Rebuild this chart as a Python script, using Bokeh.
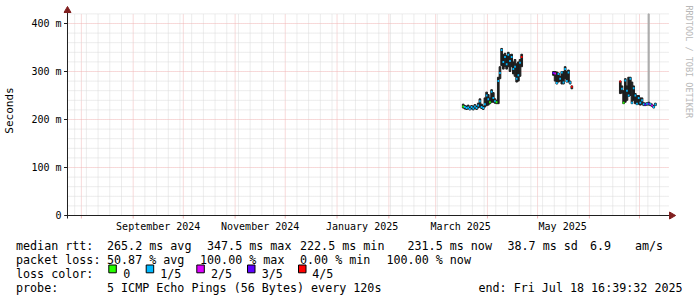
import math
import pandas as pd
from bokeh.plotting import figure
from bokeh.layouts import column
from bokeh.models import Range1d, FixedTicker, CustomJSTickFormatter
from bokeh.core.properties import value
from bokeh.embed import file_html
from bokeh.resources import INLINE

# ---------------- data ----------------
end_time = "2025-07-18 16:39:32"
span_days = 360

dates = [
    "2025-03-17 12:00", "2025-03-18 12:00", "2025-03-19 12:00", "2025-03-20 12:00",
    "2025-03-21 12:00", "2025-03-22 12:00", "2025-03-23 12:00", "2025-03-24 12:00",
    "2025-03-25 12:00", "2025-03-26 12:00", "2025-03-27 12:00", "2025-03-28 12:00",
    "2025-03-29 12:00", "2025-03-30 12:00", "2025-03-31 12:00", "2025-04-01 12:00",
    "2025-04-02 12:00", "2025-04-03 12:00", "2025-04-04 12:00", "2025-04-05 12:00",
    "2025-04-06 12:00", "2025-04-07 12:00", "2025-04-08 12:00", "2025-04-09 12:00",
    "2025-04-10 12:00", "2025-04-11 12:00", "2025-04-12 12:00", "2025-04-13 12:00",
    "2025-04-14 12:00", "2025-04-15 12:00", "2025-04-16 12:00", "2025-04-17 12:00",
    "2025-04-18 12:00", "2025-04-19 12:00", "2025-04-20 12:00", "2025-04-21 12:00",
    "2025-05-10 12:00", "2025-05-11 12:00", "2025-05-12 12:00", "2025-05-13 12:00",
    "2025-05-14 12:00", "2025-05-15 12:00", "2025-05-16 12:00", "2025-05-17 12:00",
    "2025-05-18 12:00", "2025-05-19 12:00", "2025-05-20 12:00", "2025-05-21 12:00",
    "2025-06-19 12:00", "2025-06-20 12:00", "2025-06-21 12:00", "2025-06-22 12:00",
    "2025-06-23 12:00", "2025-06-24 12:00", "2025-06-25 12:00", "2025-06-26 12:00",
    "2025-06-27 12:00", "2025-06-28 12:00", "2025-06-29 12:00", "2025-06-30 12:00",
    "2025-07-01 12:00", "2025-07-02 12:00", "2025-07-03 12:00", "2025-07-04 12:00",
    "2025-07-05 12:00", "2025-07-06 12:00", "2025-07-07 12:00", "2025-07-08 12:00",
    "2025-07-09 12:00", "2025-07-10 12:00",
]
median_s = [
    0.227, 0.226, 0.224, 0.225, 0.222, 0.226, 0.223, 0.227, 0.224, 0.229, 0.238, 0.226,
    0.224, 0.232, 0.250, 0.242, 0.236, 0.258, 0.245, 0.238, 0.236, 0.280, 0.297, 0.345,
    0.320, 0.330, 0.315, 0.335, 0.322, 0.330, 0.305, 0.310, 0.285, 0.292, 0.318, 0.330,
    0.297, 0.296, 0.276, 0.295, 0.285, 0.298, 0.277, 0.305, 0.280, 0.298, 0.277, 0.268,
    0.279, 0.264, 0.235, 0.281, 0.260, 0.250, 0.285, 0.235, 0.265, 0.250, 0.233, 0.245,
    0.235, 0.240, 0.232, 0.231, 0.233, 0.233, 0.232, 0.229, 0.226, 0.231,
]
smoke_lo = [
    0.224, 0.222, 0.221, 0.222, 0.220, 0.222, 0.220, 0.223, 0.221, 0.224, 0.226, 0.223,
    0.221, 0.226, 0.229, 0.230, 0.233, 0.236, 0.236, 0.234, 0.233, 0.233, 0.285, 0.312,
    0.305, 0.310, 0.305, 0.310, 0.300, 0.310, 0.295, 0.290, 0.278, 0.280, 0.290, 0.310,
    0.292, 0.280, 0.274, 0.278, 0.280, 0.274, 0.274, 0.285, 0.278, 0.278, 0.274, 0.264,
    0.254, 0.255, 0.233, 0.236, 0.240, 0.248, 0.250, 0.233, 0.240, 0.233, 0.231, 0.232,
    0.230, 0.232, 0.229, 0.229, 0.230, 0.230, 0.229, 0.227, 0.224, 0.229,
]
smoke_hi = [
    0.232, 0.229, 0.228, 0.230, 0.226, 0.229, 0.228, 0.231, 0.228, 0.234, 0.243, 0.232,
    0.228, 0.245, 0.257, 0.252, 0.245, 0.262, 0.256, 0.243, 0.240, 0.288, 0.310, 0.348,
    0.335, 0.338, 0.333, 0.340, 0.335, 0.336, 0.320, 0.325, 0.316, 0.320, 0.325, 0.336,
    0.300, 0.300, 0.299, 0.297, 0.290, 0.300, 0.300, 0.310, 0.300, 0.303, 0.280, 0.270,
    0.280, 0.270, 0.260, 0.285, 0.270, 0.288, 0.288, 0.278, 0.270, 0.254, 0.250, 0.250,
    0.245, 0.245, 0.235, 0.234, 0.235, 0.236, 0.234, 0.232, 0.229, 0.234,
]
loss_of5 = [
    0, 1, 1, 1, 1, 1, 1, 1, 1, 1, 1, 1, 1, 1, 1, 1, 0, 1, 1, 1, 0, 1, 1, 1,
    1, 1, 1, 1, 1, 1, 1, 1, 1, 1, 1, 4,
    3, 2, 1, 1, 1, 1, 1, 1, 1, 1, 1, 4,
    4, 1, 0, 1, 1, 1, 1, 1, 1, 1, 1, 1, 1, 1, 1, 3, 1, 3, 1, 2, 1, 1,
]
spike_dates = ["2025-07-06 12:00"]
spike_lo = [0.236]
spike_hi = [0.420]

y_ticks = [0.0, 0.1, 0.2, 0.3, 0.4]
loss_labels = ["0", "1/5", "2/5", "3/5", "4/5"]
loss_colors = ["#26ff00", "#00b8ff", "#dd00ff", "#5e00ff", "#ff0000"]

rtt_values = ["265.2", "347.5", "222.5", "231.5", "38.7"]
rtt_names = ["avg", "max", "min", "now", "sd"]
am_s = "6.9"
loss_values = ["50.87", "100.00", "0.00", "100.00"]
loss_names = ["avg", "max", "min", "now"]
probe_text = "5 ICMP Echo Pings (56 Bytes) every 120s"
end_text = "end: Fri Jul 18 16:39:32 2025"

# ---------------- layout constants ----------------
W, H1, H2 = 697, 236, 61
PXD = 1.6737            # pixels per day
X0_PX = 66.0            # pixel of graph start
FRAME_L = 62
Y0_PX = 215.0           # pixel of zero
PXS = 480.0             # pixels per second
FRAME_B = 220

FONT = value("DejaVu Sans Mono")
GRID_MINOR = "#d9d9d9"
GRID_MAJOR = "#f0b4b4"
AXIS_COL = "#1f1f1f"
ARROW_COL = "#801f1f"
SMOKE_COL = "#1e1e1e"

t_end = pd.Timestamp(end_time)
t0 = t_end - pd.Timedelta(days=span_days)
day = pd.Timedelta(days=1)

def px_days(npx):
    return pd.Timedelta(days=npx / PXD)

def px_val(npx):
    return npx / PXS

x_start = t0 - px_days(X0_PX - FRAME_L)
x_end = t0 + px_days(W - X0_PX)
y_start = -px_val(FRAME_B - Y0_PX)
y_end = px_val(Y0_PX)
y_top = 0.42

p = figure(width=W, height=H1, x_axis_type="datetime",
           x_range=Range1d(x_start, x_end), y_range=Range1d(y_start, y_end),
           output_backend="svg", toolbar_location=None, title=None,
           min_border_left=FRAME_L, min_border_right=0, min_border_top=0,
           min_border_bottom=H1 - FRAME_B)
p.frame_align = False
p.background_fill_color = "white"
p.border_fill_color = "white"
p.outline_line_color = None
p.grid.visible = False

# grid lines
weeks = [d for d in pd.date_range(t0.normalize(), t_end, freq="W-SUN") if d >= t0 and d.day != 1]
months = [d for d in pd.date_range(t0.normalize(), t_end, freq="MS") if d >= t0]
p.segment(x0=weeks, x1=weeks, y0=[0] * len(weeks), y1=[y_top] * len(weeks),
          line_color=GRID_MINOR, line_width=1, line_dash="1 1")
p.segment(x0=months, x1=months, y0=[0] * len(months), y1=[y_top] * len(months),
          line_color=GRID_MAJOR, line_width=1, line_dash="1 1")
p.segment(x0=months, x1=months, y0=[-px_val(3)] * len(months), y1=[0] * len(months),
          line_color=GRID_MAJOR, line_width=1)
hminor = [round(v * 0.02, 2) for v in range(1, 22) if v % 5 != 0]
hmajor = [v for v in y_ticks if v > 0]
p.segment(x0=[t0] * len(hminor), x1=[t_end] * len(hminor), y0=hminor, y1=hminor,
          line_color=GRID_MINOR, line_width=1, line_dash="1 1")
p.segment(x0=[t0] * len(hmajor), x1=[t_end] * len(hmajor), y0=hmajor, y1=hmajor,
          line_color=GRID_MAJOR, line_width=1, line_dash="1 1")
# y tick stubs
p.segment(x0=[t0 - px_days(3.5)] * len(hmajor), x1=[t0] * len(hmajor), y0=hmajor, y1=hmajor,
          line_color=AXIS_COL, line_width=1)

# data
dts = pd.to_datetime(dates)
spk = pd.to_datetime(spike_dates)
p.vbar(x=spk, bottom=spike_lo, top=spike_hi, width=0.6 * 86400000, color="#aaaaaa")
p.vbar(x=dts, bottom=smoke_lo, top=smoke_hi, width=1.0 * 86400000, color=SMOKE_COL)

cols = [loss_colors[k] for k in loss_of5]
p.segment(x0=[d - 0.5 * day for d in dts], x1=[d + 0.5 * day for d in dts],
          y0=median_s, y1=median_s, line_color=cols, line_width=2)

# axes lines + arrows
p.segment(x0=[t0 - px_days(3.3)], x1=[t_end + px_days(1)], y0=[0], y1=[0],
          line_color=AXIS_COL, line_width=1)
p.segment(x0=[t0], x1=[t0], y0=[-px_val(3)], y1=[px_val(Y0_PX - 12)],
          line_color=AXIS_COL, line_width=1)
p.scatter(x=[t0], y=[px_val(Y0_PX - 10)], marker="triangle", size=7,
          color=ARROW_COL)
p.scatter(x=[t_end + px_days(2.5)], y=[0], marker="triangle", size=7,
          angle=-math.pi / 2, color=ARROW_COL)

# watermark
p.text(x=[t0 + px_days(688 - X0_PX)], y=[px_val(Y0_PX - 5)], text=["RRDTOOL / TOBI OETIKER"],
       angle=-math.pi / 2, text_font=FONT, text_font_size="8.5px", text_color="#b8b8b8",
       text_align="left", text_baseline="middle")

# axes
label_ticks = [d + 15 * day for d in months if d.month in (9, 11, 1, 3, 5)]
xa = p.xaxis[0]
xa.ticker = FixedTicker(ticks=[d.value / 1e6 for d in label_ticks], minor_ticks=[])
xa.formatter = CustomJSTickFormatter(code="""
const m = ["January","February","March","April","May","June","July","August",
           "September","October","November","December"];
const d = new Date(tick);
return m[d.getUTCMonth()] + " " + d.getUTCFullYear();
""")
xa.axis_line_color = None
xa.major_tick_line_color = None
xa.minor_tick_line_color = None
xa.major_tick_out = 0
xa.major_tick_in = 0
xa.major_label_standoff = 0
xa.major_label_text_font = "DejaVu Sans Mono"
xa.major_label_text_font_size = "10px"
xa.major_label_text_color = "#000000"

ya = p.yaxis[0]
ya.ticker = FixedTicker(ticks=y_ticks, minor_ticks=[])
ya.formatter = CustomJSTickFormatter(code="""
if (Math.abs(tick) < 1e-9) return "0";
return Math.round(tick * 1000) + " m";
""")
ya.axis_line_color = None
ya.major_tick_line_color = None
ya.minor_tick_line_color = None
ya.major_tick_out = 0
ya.major_tick_in = 0
ya.major_label_standoff = 2
ya.major_label_text_font = "DejaVu Sans Mono"
ya.major_label_text_font_size = "10px"
ya.major_label_text_color = "#000000"
ya.axis_label = "Seconds"
ya.axis_label_standoff = 12
ya.axis_label_text_font = "DejaVu Sans Mono"
ya.axis_label_text_font_size = "11px"
ya.axis_label_text_font_style = "normal"
ya.axis_label_text_color = "#000000"

# ---------------- legend panel ----------------
q = figure(width=W, height=H2, x_range=Range1d(0, W), y_range=Range1d(H1 + H2, H1),
           x_axis_location=None, y_axis_location=None, output_backend="svg",
           toolbar_location=None, title=None, min_border=0,
           min_border_left=0, min_border_right=0, min_border_top=0, min_border_bottom=0)
q.frame_align = False
q.background_fill_color = "white"
q.border_fill_color = "white"
q.outline_line_color = None
q.grid.visible = False

LFS = "11.7px"
rows = [245, 259, 273, 287]
tx, ty, tt = [], [], []
def put(x, y, s):
    tx.append(x); ty.append(y); tt.append(s)

put(15.5, rows[0], "median rtt:")
for x, v, n in zip([106.5, 206.5, 299.5, 407, 507], rtt_values, rtt_names):
    put(x, rows[0], f"{v} ms {n}")
put(589.5, rows[0], am_s)
put(634.5, rows[0], "am/s")

put(15.5, rows[1], "packet loss:")
for x, v, n in zip([106.5, 199.5, 299.5, 386], loss_values, loss_names):
    put(x, rows[1], f"{v} % {n}")

put(15.5, rows[2], "loss color:")
box_x = [108.3, 145.7, 196.3, 247.0, 298.0]
lab_x = [122.8, 159.8, 210.5, 261.2, 311.8]
for x, s in zip(lab_x, loss_labels):
    put(x, rows[2], s)

put(15.5, rows[3], "probe:")
put(106.5, rows[3], probe_text)
put(478, rows[3], end_text)

q.text(x=tx, y=ty, text=tt, text_font=FONT, text_font_size=LFS, text_color="#000000",
       text_align="left", text_baseline="alphabetic")
q.quad(left=box_x, right=[b + 7.5 for b in box_x], top=[264.5] * 5, bottom=[272.3] * 5,
       fill_color=loss_colors, line_color="#000000", line_width=1)

layout = column(p, q, spacing=0)
open("out.html", "w").write(file_html(layout, INLINE))
